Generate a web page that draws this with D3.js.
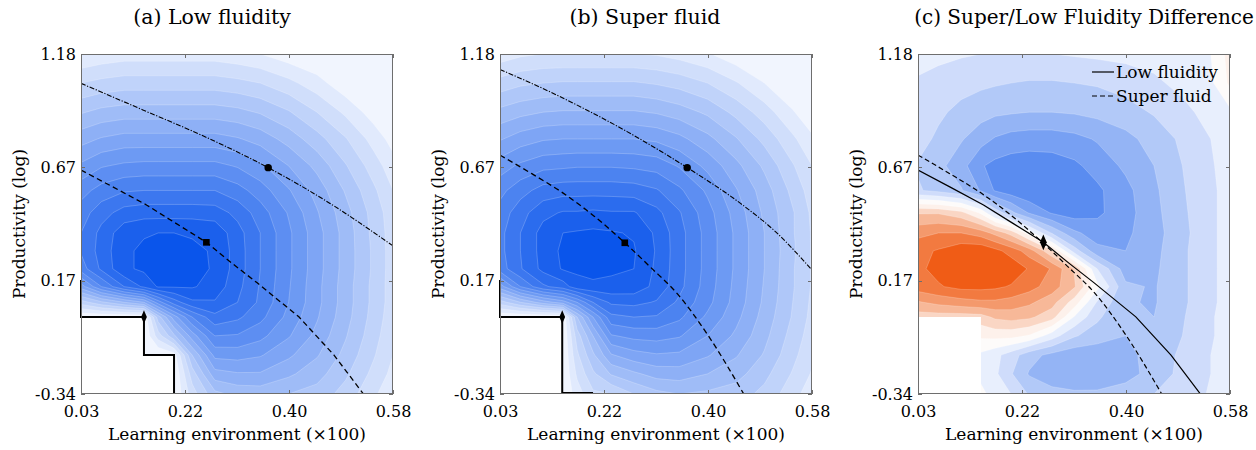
<!DOCTYPE html>
<html>
<head>
<meta charset="utf-8">
<script src="https://cdn.jsdelivr.net/npm/d3@7"></script>
<style>
  body { margin: 0; background: #fff; }
  svg { display: block; }
  text { font-family: "DejaVu Serif", "Liberation Serif", serif; fill: #000; }
</style>
</head>
<body>
<svg id="chart" width="1256" height="450"></svg>
<script>
// ---- Density grid: node positions (learning environment, productivity) ----
const gridX = [0.034, 0.07, 0.11, 0.145, 0.17, 0.198, 0.23, 0.27, 0.31, 0.35, 0.40, 0.45, 0.50, 0.55, 0.584];
const gridY = [1.18, 1.05, 0.92, 0.80, 0.68, 0.57, 0.47, 0.38, 0.30, 0.22, 0.14, 0.07, 0.004, -0.08, -0.166, -0.25, -0.34];

// Density level at each node (rows top to bottom), low fluidity economy
const lowFluidity = [
  [1.0,1.3,1.5,1.5,1.5,1.5,1.5,1.5,1.3,1.0,0.4,0.0,0.0,0.0,0.0],
  [3.0,3.3,3.5,3.5,3.5,3.5,3.5,3.5,3.3,3.0,2.3,1.4,0.3,0.0,0.0],
  [4.9,5.3,5.5,5.5,5.5,5.5,5.5,5.5,5.3,4.9,4.1,3.0,1.8,0.5,0.0],
  [6.6,7.1,7.4,7.4,7.4,7.4,7.4,7.4,7.1,6.6,5.6,4.4,3.1,1.6,0.6],
  [8.2,8.9,9.2,9.3,9.3,9.3,9.3,9.3,8.9,8.2,7.0,5.7,4.1,2.5,1.4],
  [9.6,10.4,10.9,11.0,11.0,11.0,11.0,11.0,10.4,9.5,8.1,6.6,4.9,3.2,2.0],
  [10.5,11.6,12.4,12.6,12.6,12.6,12.6,12.5,11.7,10.5,8.9,7.1,5.4,3.6,2.4],
  [11.0,12.3,13.6,13.9,14.0,14.0,13.9,13.7,12.4,11.0,9.2,7.4,5.6,3.7,2.5],
  [11.1,12.4,13.8,14.2,14.4,14.4,14.2,13.9,12.5,11.0,9.2,7.4,5.6,3.8,2.5],
  [10.5,12.2,13.8,14.2,14.4,14.4,14.3,13.9,12.5,11.0,9.2,7.4,5.6,3.8,2.5],
  [7.5,10.0,12.0,13.2,14.1,14.1,14.1,13.6,12.3,10.9,9.1,7.3,5.5,3.7,2.5],
  [3.5,4.8,6.0,7.0,9.5,11.5,12.8,12.9,12.0,10.8,9.0,7.3,5.5,3.7,2.5],
  [0,0,0,0,4.5,7.5,10.0,11.7,11.2,10.3,8.7,7.1,5.4,3.6,2.4],
  [0,0,0,0,2.5,4.8,7.5,10.0,9.9,9.3,8.1,6.7,5.1,3.4,2.2],
  [0,0,0,0,0,0.5,5.0,8.3,8.4,8.1,7.2,6.1,4.7,3.1,2.0],
  [0,0,0,0,0,0,3.5,6.6,6.9,6.9,6.2,5.4,4.2,2.7,1.7],
  [0,0,0,0,0,0,2.5,4.7,5.3,5.4,5.0,4.6,3.6,2.2,1.2]
];

// Density level at each node, super fluid economy
const superFluid = [
  [1.4,1.8,2.0,2.0,2.0,2.0,2.0,2.0,1.9,1.6,1.1,0.3,0.0,0.0,0.0],
  [3.4,3.8,4.0,4.1,4.1,4.1,4.1,4.1,3.9,3.6,3.0,2.1,1.0,0.0,0.0],
  [5.3,5.7,6.0,6.1,6.1,6.1,6.1,6.1,5.9,5.5,4.8,3.7,2.5,1.1,0.2],
  [6.9,7.5,7.9,8.0,8.0,8.0,8.0,8.0,7.8,7.3,6.3,5.1,3.7,2.2,1.2],
  [8.5,9.2,9.7,9.8,9.9,9.9,9.9,9.8,9.6,8.9,7.7,6.3,4.8,3.1,2.0],
  [9.7,10.6,11.4,11.6,11.6,11.6,11.6,11.5,11.1,10.2,8.8,7.1,5.5,3.7,2.5],
  [10.4,11.6,12.7,13.1,13.1,13.2,13.1,13.1,12.3,11.1,9.4,7.6,5.8,4.1,2.8],
  [10.7,12.0,13.4,14.0,14.1,14.2,14.1,13.9,12.8,11.4,9.6,7.8,6.0,4.1,2.9],
  [10.7,12.0,13.4,14.2,14.4,14.6,14.4,14.1,12.9,11.4,9.6,7.8,6.0,4.2,2.9],
  [10.5,11.9,13.3,14.1,14.2,14.3,14.2,14.0,12.8,11.4,9.6,7.8,6.0,4.1,2.9],
  [7.5,10.0,11.8,12.5,13.6,13.8,13.7,13.6,12.7,11.3,9.5,7.7,5.9,4.1,2.9],
  [3.5,5.0,6.5,7.5,9.0,11.0,12.2,12.3,11.9,10.8,9.3,7.6,5.8,4.0,2.8],
  [0,0,0,0,5.0,8.0,10.7,11.0,10.9,10.2,8.8,7.3,5.6,3.9,2.7],
  [0,0,0,0,3.5,6.0,8.9,9.3,9.4,9.1,8.0,6.8,5.3,3.6,2.5],
  [0,0,0,0,2.8,4.8,6.9,7.6,7.9,7.8,7.1,6.1,4.9,3.3,2.2],
  [0,0,0,0,2.2,3.8,5.1,5.8,6.4,6.5,6.0,5.4,4.3,2.9,1.9],
  [0,0,0,0,1.5,2.8,3.0,4.0,4.7,5.0,4.8,4.5,3.7,2.4,1.4]
];

// Super minus low fluidity density (positive = more mass under super fluidity)
const fluidityDiff = [
  [-1.2,-1.3,-1.4,-1.5,-1.5,-1.5,-1.5,-1.5,-1.4,-1.3,-1.2,-1.1,-0.9,-0.5,0.9],
  [-1.6,-1.8,-2.1,-2.3,-2.4,-2.5,-2.6,-2.6,-2.5,-2.4,-2.1,-1.7,-1.2,-0.7,0.7],
  [-1.9,-2.3,-2.8,-3.1,-3.3,-3.4,-3.5,-3.5,-3.4,-3.2,-2.9,-2.4,-1.8,-1.1,-0.7],
  [-2.1,-2.7,-3.4,-4.1,-4.6,-4.9,-5.0,-5.0,-4.8,-4.4,-3.8,-3.1,-2.3,-1.5,-1.0],
  [-2.6,-3.2,-4.1,-5.4,-5.8,-6.0,-6.1,-6.0,-5.7,-5.1,-4.3,-3.5,-2.5,-1.6,-1.1],
  [-2.4,-2.8,-3.4,-4.6,-5.6,-6.1,-6.4,-6.4,-6.2,-5.7,-4.8,-3.7,-2.6,-1.7,-1.1],
  [2.4,2.4,1.8,0.3,-1.8,-3.2,-4.6,-5.6,-6.0,-5.7,-4.9,-3.8,-2.7,-1.7,-1.1],
  [4.2,4.5,4.5,4.0,3.2,2.1,0.0,-2.6,-4.3,-5.0,-4.7,-3.9,-2.8,-1.7,-1.1],
  [5.2,5.6,6.2,6.3,5.8,5.1,4.0,1.6,-2.0,-4.2,-4.5,-3.8,-2.7,-1.7,-1.1],
  [5.3,5.8,6.5,6.6,6.5,6.2,5.4,4.4,2.4,-1.5,-4.0,-3.7,-2.7,-1.7,-1.1],
  [5.0,5.4,5.8,5.8,5.7,5.4,4.9,4.0,2.6,-0.2,-3.3,-3.6,-2.7,-1.7,-1.1],
  [3.4,3.8,4.1,4.3,4.3,4.1,3.7,2.9,1.0,-1.6,-3.4,-3.6,-2.7,-1.7,-1.1],
  [2.0,2.0,2.0,2.1,2.7,2.9,2.7,1.9,-0.6,-2.3,-3.5,-3.5,-2.6,-1.6,-1.1],
  [0,0,0,0.7,0.8,0.8,0.4,-1.0,-2.4,-3.0,-3.5,-3.4,-2.5,-1.6,-1.1],
  [0,0,0,-0.7,-1.2,-2.0,-3.1,-3.8,-4.2,-4.2,-3.8,-3.1,-2.3,-1.5,-1.0],
  [0,0,0,-0.7,-1.3,-2.4,-3.6,-4.2,-4.4,-4.3,-3.9,-3.1,-2.2,-1.5,-1.0],
  [0,0,0,-0.3,-0.8,-1.5,-2.6,-3.1,-3.3,-3.3,-3.0,-2.5,-2.0,-1.4,-1.0]
];

// ---- Curves ----
const upperLowX = [0.034, 0.143, 0.2526, 0.364, 0.473, 0.584];
const upperLowY = [1.049, 0.93, 0.810, 0.672, 0.512, 0.322];
const upperSuperX = [0.034, 0.122, 0.258, 0.364, 0.458, 0.52, 0.584];
const upperSuperY = [1.111, 1.011, 0.833, 0.672, 0.512, 0.385, 0.214];
const lowCurveX = [0.034, 0.09, 0.1495, 0.20, 0.255, 0.30, 0.344, 0.418, 0.480, 0.531];
const lowCurveY = [0.661, 0.586, 0.505, 0.425, 0.338, 0.245, 0.158, 0.005, -0.166, -0.337];
const superCurveX = [0.034, 0.09, 0.146, 0.20, 0.254, 0.30, 0.346, 0.40, 0.463];
const superCurveY = [0.728, 0.645, 0.557, 0.455, 0.336, 0.225, 0.110, -0.075, -0.337];

// ---- Feasibility boundaries (staircases) and excluded regions ----
const stairLowX = [0.034, 0.034, 0.145, 0.145, 0.198, 0.198];
const stairLowY = [0.17, 0.004, 0.004, -0.166, -0.166, -0.34];
const stairSuperX = [0.034, 0.034, 0.1437, 0.1437, 0.198];
const stairSuperY = [0.17, 0.004, 0.004, -0.335, -0.335];
const maskLowX = [0.034, 0.145, 0.145, 0.198, 0.198, 0.034];
const maskLowY = [0.004, 0.004, -0.166, -0.166, -0.34, -0.34];
const maskSuperX = [0.034, 0.1437, 0.1437, 0.034];
const maskSuperY = [0.004, 0.004, -0.34, -0.34];
const maskDiffX = [0.034, 0.145, 0.145, 0.034];
const maskDiffY = [0.004, 0.004, -0.34, -0.34];

// ---- Marked points ----
const circleLow = [0.364, 0.672], squareLow = [0.255, 0.338], diamondLow = [0.145, 0.004];
const circleSuper = [0.364, 0.672], squareSuper = [0.254, 0.336], diamondSuper = [0.1437, 0.004];
const diamondCross = [0.255, 0.338];

// ---- Axes ----
const xDomain = [0.034, 0.584];
const yDomain = [-0.34, 1.18];
const xTicks = [0.034, 0.2173, 0.4007, 0.584];
const xTickLabels = ["0.03", "0.22", "0.40", "0.58"];
const yTicks = [-0.34, 0.1667, 0.6733, 1.18];
const yTickLabels = ["-0.34", "0.17", "0.67", "1.18"];

const levelThresholds = d3.range(1, 15);
const diffThresholds = d3.range(-5.5, 6, 1);

// colours
const blueRamp = d3.interpolateRgb("#f1f5fe", "#0a55eb");
const levelColor = k => blueRamp(k / 14);
const diffColors = ["#5a8cf0", "#77a0f3", "#94b4f5", "#b2c9f8", "#cfdcfb", "#e8effd",
                    "#fdfbfa",
                    "#fdf1eb", "#fad6c4", "#f7b898", "#f4996c", "#f27a40", "#f05c16"];
const diffColor = t => diffColors[Math.round(t + 0.5) + 6];

const W = 312, TOP = 54, BOTTOM = 394;
const svg = d3.select("#chart");
const defs = svg.append("defs");

const zip = (xs, ys) => xs.map((v, i) => [v, ys[i]]);

function drawPanel(p) {
  const x = d3.scaleLinear().domain(xDomain).range([p.left, p.left + W]);
  const y = d3.scaleLinear().domain(yDomain).range([BOTTOM, TOP]);
  const g = svg.append("g");

  defs.append("clipPath").attr("id", "clip-" + p.id)
    .append("rect").attr("x", p.left).attr("y", TOP).attr("width", W).attr("height", BOTTOM - TOP);
  const plot = g.append("g").attr("clip-path", `url(#clip-${p.id})`);

  // filled contours
  plot.append("rect").attr("x", p.left).attr("y", TOP).attr("width", W).attr("height", BOTTOM - TOP)
    .attr("fill", p.base);
  const ix = d3.scaleLinear().domain(gridX.map((_, i) => i + 0.5)).range(gridX);
  const iy = d3.scaleLinear().domain(gridY.map((_, j) => j + 0.5)).range(gridY);
  const gridPath = d3.geoPath(d3.geoTransform({
    point(a, b) { this.stream.point(x(ix(a)), y(iy(b))); }
  }));
  const bands = d3.contours().size([gridX.length, gridY.length]).thresholds(p.thresholds)(p.values.flat());
  plot.selectAll("path.band").data(bands).join("path")
    .attr("class", "band")
    .attr("d", gridPath)
    .attr("fill", d => p.color(d.value))
    .attr("stroke", "rgba(255,255,255,0.35)")
    .attr("stroke-width", 0.6);

  // excluded region
  const line = d3.line().x(d => x(d[0])).y(d => y(d[1]));
  plot.append("path").attr("d", line(zip(p.maskX, p.maskY)) + "Z").attr("fill", "#fff");

  // curves
  p.curves.forEach(c => {
    plot.append("path")
      .attr("d", d3.line().x(d => x(d[0])).y(d => y(d[1])).curve(c.curve || d3.curveLinear)(zip(c.xs, c.ys)))
      .attr("fill", "none").attr("stroke", "#000")
      .attr("stroke-width", c.width).attr("stroke-dasharray", c.dash || null);
  });

  if (p.stairX) {
    g.append("path").attr("d", line(zip(p.stairX, p.stairY)))
      .attr("fill", "none").attr("stroke", "#000").attr("stroke-width", 2).attr("stroke-linejoin", "miter");
  }

  // markers
  const sym = (type, size) => d3.symbol().type(type).size(size)();
  p.markers.forEach(m => {
    g.append("path").attr("d", sym(m.type, m.size))
      .attr("transform", `translate(${x(m.at[0])},${y(m.at[1])})` + (m.type === d3.symbolDiamond ? " scale(0.85,1.15)" : ""))
      .attr("fill", "#000");
  });

  // box and ticks
  const axisColor = "#6e6e6e";
  const styleAxis = sel => {
    sel.select(".domain").remove();
    sel.selectAll(".tick line").attr("stroke", axisColor).attr("shape-rendering", "crispEdges");
    sel.selectAll(".tick text").attr("font-size", 16).attr("fill", "#000");
  };
  g.append("g").attr("transform", `translate(0,${BOTTOM})`)
    .call(d3.axisBottom(x).tickValues(xTicks).tickSizeInner(-4).tickSizeOuter(0).tickPadding(12)
      .tickFormat((d, i) => xTickLabels[i])).call(styleAxis);
  g.append("g").attr("transform", `translate(0,${TOP})`)
    .call(d3.axisTop(x).tickValues(xTicks).tickSizeInner(-4).tickSizeOuter(0).tickFormat(""))
    .call(styleAxis);
  g.append("g").attr("transform", `translate(${p.left},0)`)
    .call(d3.axisLeft(y).tickValues(yTicks).tickSizeInner(-4).tickSizeOuter(0).tickPadding(5)
      .tickFormat((d, i) => yTickLabels[i])).call(styleAxis);
  g.append("g").attr("transform", `translate(${p.left + W},0)`)
    .call(d3.axisRight(y).tickValues(yTicks).tickSizeInner(-4).tickSizeOuter(0).tickFormat(""))
    .call(styleAxis);
  g.append("rect").attr("x", p.left + 0.5).attr("y", TOP + 0.5).attr("width", W - 1).attr("height", BOTTOM - TOP - 1)
    .attr("fill", "none").attr("stroke", axisColor).attr("stroke-width", 1);

  // labels
  g.append("text").attr("x", p.titleX).attr("y", 24).attr("text-anchor", "middle")
    .attr("font-size", p.titleSize).text(p.title);
  g.append("text").attr("x", p.left + W / 2).attr("y", 440).attr("text-anchor", "middle")
    .attr("font-size", 17).text("Learning environment (\u00d7100)");
  g.append("text").attr("transform", `translate(${p.left - 56},${(TOP + BOTTOM) / 2}) rotate(-90)`)
    .attr("text-anchor", "middle").attr("font-size", 17).text("Productivity (log)");

  return { x, y, g };
}

drawPanel({
  id: "a", left: 81, title: "(a) Low fluidity", titleX: 212, titleSize: 20.5,
  values: lowFluidity, thresholds: levelThresholds, color: levelColor, base: levelColor(0),
  maskX: maskLowX, maskY: maskLowY, stairX: stairLowX, stairY: stairLowY,
  curves: [
    { xs: upperLowX, ys: upperLowY, width: 1.1, dash: "5,1.6,1.2,1.6", curve: d3.curveMonotoneX },
    { xs: lowCurveX, ys: lowCurveY, width: 1.3, dash: "5.5,3.5" }
  ],
  markers: [
    { type: d3.symbolCircle, size: 44, at: circleLow },
    { type: d3.symbolSquare, size: 44, at: squareLow },
    { type: d3.symbolDiamond, size: 40, at: diamondLow }
  ]
});

drawPanel({
  id: "b", left: 500, title: "(b) Super fluid", titleX: 645, titleSize: 20.5,
  values: superFluid, thresholds: levelThresholds, color: levelColor, base: levelColor(0),
  maskX: maskSuperX, maskY: maskSuperY, stairX: stairSuperX, stairY: stairSuperY,
  curves: [
    { xs: upperSuperX, ys: upperSuperY, width: 1.1, dash: "5,1.6,1.2,1.6", curve: d3.curveMonotoneX },
    { xs: superCurveX, ys: superCurveY, width: 1.3, dash: "5.5,3.5", curve: d3.curveMonotoneX }
  ],
  markers: [
    { type: d3.symbolCircle, size: 44, at: circleSuper },
    { type: d3.symbolSquare, size: 44, at: squareSuper },
    { type: d3.symbolDiamond, size: 40, at: diamondSuper }
  ]
});

const pc = drawPanel({
  id: "c", left: 918, title: "(c) Super/Low Fluidity Difference", titleX: 1084, titleSize: 20,
  values: fluidityDiff, thresholds: diffThresholds, color: diffColor, base: diffColors[0],
  maskX: maskDiffX, maskY: maskDiffY,
  curves: [
    { xs: lowCurveX, ys: lowCurveY, width: 1.2 },
    { xs: superCurveX, ys: superCurveY, width: 1.2, dash: "5,3", curve: d3.curveMonotoneX }
  ],
  markers: [
    { type: d3.symbolDiamond, size: 55, at: diamondCross }
  ]
});

// legend
const legend = pc.g.append("g").attr("transform", "translate(1092,72)");
[["Low fluidity", null], ["Super fluid", "5,3"]].forEach(([label, dash], i) => {
  legend.append("line").attr("x1", 0).attr("x2", 22).attr("y1", i * 24).attr("y2", i * 24)
    .attr("stroke", "#000").attr("stroke-width", 1.2).attr("stroke-dasharray", dash);
  legend.append("text").attr("x", 24).attr("y", i * 24 + 6).attr("font-size", 17).text(label);
});
</script>
</body>
</html>
